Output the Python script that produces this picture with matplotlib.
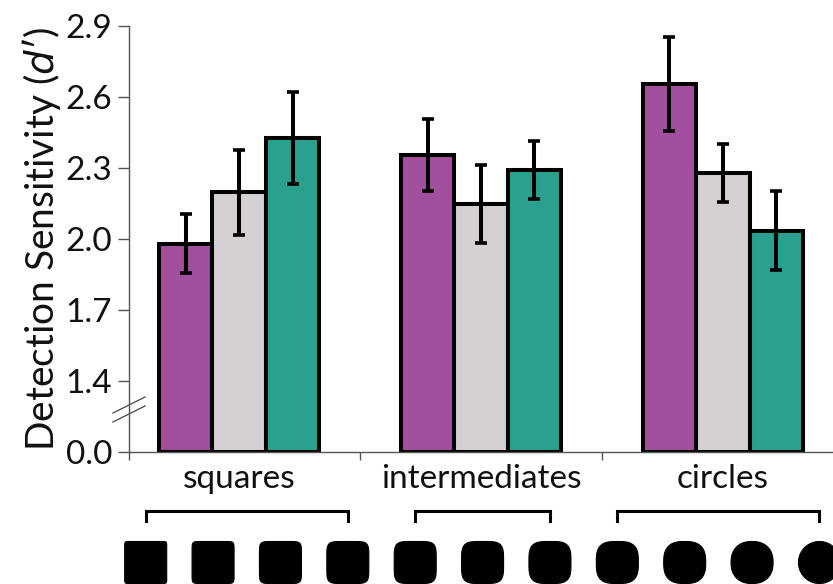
import numpy as np
import matplotlib
matplotlib.use("Agg")
import matplotlib.pyplot as plt
from matplotlib.patches import Polygon
from matplotlib.transforms import blended_transform_factory

plt.rcParams['font.family'] = ['Lato', 'DejaVu Sans']

# ---- data ----
groups = ["squares", "intermediates", "circles"]
series_names = ["purple", "gray", "teal"]
purple_vals = [1.98, 2.355, 2.655]
gray_vals = [2.197, 2.147, 2.278]
teal_vals = [2.428, 2.292, 2.034]
purple_err = [0.125, 0.152, 0.200]
gray_err = [0.178, 0.165, 0.122]
teal_err = [0.195, 0.122, 0.167]
ytick_vals = [0.0, 1.4, 1.7, 2.0, 2.3, 2.6, 2.9]
ytick_labels = ["0.0", "1.4", "1.7", "2.0", "2.3", "2.6", "2.9"]

colors = ["#A24F9E", "#D4D0D3", "#2AA08F"]
values = [purple_vals, gray_vals, teal_vals]
errors = [purple_err, gray_err, teal_err]

# broken y axis: the 0 - 1.4 range is squeezed into one tick step
BREAK = 1.4
STEP = 0.3


def fwd(v):
    v = np.asarray(v, dtype=float)
    return np.where(v >= BREAK, v, (BREAK - STEP) + v * STEP / BREAK)


def inv(u):
    u = np.asarray(u, dtype=float)
    return np.where(u >= BREAK, u, (u - (BREAK - STEP)) * BREAK / STEP)


W, H = 833, 584
fig = plt.figure(figsize=(W / 100, H / 100), dpi=100)
x_left, x_right = -0.455, 2.455
ax = fig.add_axes([129 / W, 1 - 452 / H, (W - 129) / W, (452 - 26) / H])
ax.set_yscale('function', functions=(fwd, inv))
ax.set_ylim(0, 2.9)
ax.set_xlim(x_left, x_right)

x = np.arange(len(groups))
bw = 0.221
for i in range(3):
    xs = x + (i - 1) * bw
    ax.bar(xs, values[i], width=bw, color=colors[i], edgecolor="black",
           linewidth=2.9, zorder=2)
    ax.errorbar(xs, values[i], yerr=errors[i], fmt="none", ecolor="black",
                elinewidth=2.9, capsize=4, capthick=2.6, zorder=3)

axis_gray = "#555555"
for s in ["top", "right"]:
    ax.spines[s].set_visible(False)
for s in ["left", "bottom"]:
    ax.spines[s].set_color(axis_gray)
    ax.spines[s].set_linewidth(1.0)

ax.set_yticks(ytick_vals)
ax.set_yticklabels(ytick_labels)
ax.yaxis.set_minor_locator(matplotlib.ticker.NullLocator())
ax.tick_params(axis="y", length=8, width=1.0, color=axis_gray, pad=4,
               labelsize=24, labelcolor="#111111")

ax.set_xticks(x)
ax.set_xticklabels(groups)
ax.tick_params(axis="x", which="major", length=0, pad=9, labelsize=24,
               labelcolor="#111111")
ax.set_xticks([x_left, 0.5, 1.5], minor=True)
ax.tick_params(axis="x", which="minor", length=6, width=1.0, color=axis_gray)

ax.set_ylabel("Detection Sensitivity ($\\mathit{d}$\u2032)", fontsize=28,
              color="#111111", labelpad=2)

# axis break marks
ftrans = fig.transFigure
for dy in (0, 9):
    fig.add_artist(plt.Line2D([113 / W, 145 / W],
                              [1 - (413 + dy) / H, 1 - (397 + dy) / H],
                              color=axis_gray, lw=1.0, transform=ftrans))

# stimulus shapes: square -> circle morph (superellipses)
shape_x0 = -0.386
shape_dx = 0.2785
shape_exps = [22, 12, 8, 6, 5, 4.2, 3.6, 3.1, 2.7, 2.3, 2.0]
shape_x = [shape_x0 + k * shape_dx for k in range(len(shape_exps))]

ax2 = fig.add_axes([129 / W, 0, (W - 129) / W, 70 / H])
ax2.set_xlim(x_left, x_right)
upp = (x_right - x_left) / (W - 129)
ax2.set_ylim(0, 70 * upp)
ax2.axis("off")
half = 21 * upp
cy = 21.5 * upp
t = np.linspace(0, 2 * np.pi, 400)
for cx, n in zip(shape_x, shape_exps):
    c, s = np.cos(t), np.sin(t)
    px = cx + half * np.sign(c) * np.abs(c) ** (2 / n)
    py = cy + half * np.sign(s) * np.abs(s) ** (2 / n)
    ax2.add_patch(Polygon(np.column_stack([px, py]), closed=True,
                          facecolor="black", edgecolor="black", lw=0.8,
                          clip_on=False))

# brackets grouping the stimuli
bracket_spans = [(0, 3), (4, 6), (7, 10)]
btrans = blended_transform_factory(ax.transData, ftrans)
y_top = 1 - 511 / H
y_bot = 1 - 521 / H
for a, b in bracket_spans:
    xa, xb = shape_x[a], shape_x[b]
    fig.add_artist(plt.Line2D([xa, xa, xb, xb], [y_bot, y_top, y_top, y_bot],
                              color="black", lw=2.2, transform=btrans,
                              solid_joinstyle="miter"))

fig.savefig("out.png", dpi=100)
